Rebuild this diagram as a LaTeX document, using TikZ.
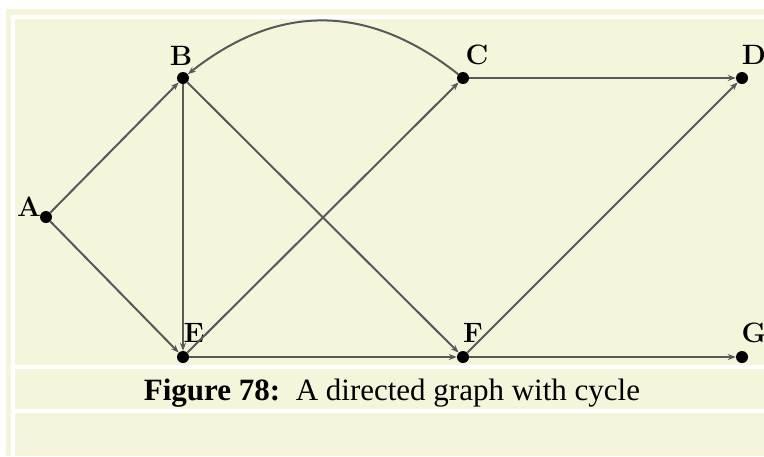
\documentclass[tikz,border=0pt]{standalone}
\usepackage{fontspec}
\newfontfamily\capfont{Liberation Serif}
\usetikzlibrary{arrows.meta}
\definecolor{bg}{RGB}{245,245,220}
\begin{document}
\begin{tikzpicture}[x=1pt,y=-1pt,
  vtx/.style={circle,fill=black,inner sep=0pt,minimum size=12pt},
  lbl/.style={inner sep=0pt,font=\fontsize{28}{28}\selectfont\bfseries},
  edge/.style={draw=black!65,line width=2pt,-{Stealth[length=8pt,width=6pt]}}]
\useasboundingbox (0,0) rectangle (764,456);
\fill[white] (0,0) rectangle (764,456);
\fill[bg] (6,9) rectangle (764,456);
\fill[white] (11,15) rectangle (764,456);
\fill[bg] (15,19) rectangle (764,365);
\fill[bg] (15,369) rectangle (764,409);
\fill[bg] (15,413) rectangle (764,456);
% vertices
\node[vtx] (A) at (46,217) {};
\node[vtx] (B) at (183,78) {};
\node[vtx] (C) at (463,78) {};
\node[vtx] (D) at (742,78) {};
\node[vtx] (E) at (183,357) {};
\node[vtx] (F) at (463,357) {};
\node[vtx] (G) at (742,357) {};
% labels
\node[lbl] (lA) at (29,207) {A};
\node[lbl] (lB) at (181,56) {B};
\node[lbl] (lC) at (477,55) {C};
\node[lbl] (lD) at (754,55) {D};
\node[lbl] (lE) at (194,333) {E};
\node[lbl] (lF) at (473,333) {F};
\node[lbl] (lG) at (754,333) {G};
% edges
\draw[edge] (A) -- (B);
\draw[edge] (A) -- (E);
\draw[edge] (B) -- (E);
\draw[edge] (B) -- (F);
\draw[edge] (E) -- (C);
\draw[edge] (E) -- (F);
\draw[edge] (F) -- (D);
\draw[edge] (F) -- (G);
\draw[edge] (C) -- (D);
\draw[edge] (C) .. controls (368,3) and (278,3) .. (B);
% caption
\node[anchor=base,inner sep=0pt,font=\capfont\fontsize{31}{31}\selectfont] (cap) at (392,400) {\textbf{Figure 78:}\ \ A directed graph with cycle};
\end{tikzpicture}
\end{document}
